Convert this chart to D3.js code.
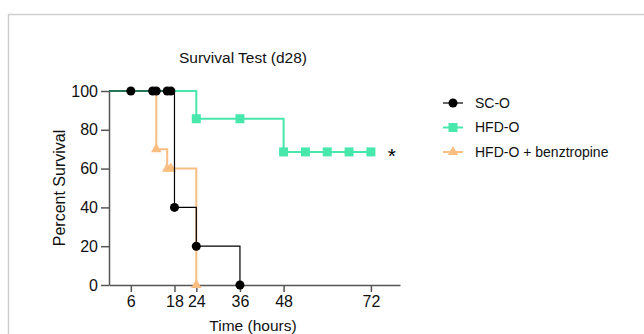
<!DOCTYPE html>
<html>
<head>
<meta charset="utf-8">
<script src="https://cdn.jsdelivr.net/npm/d3@7"></script>
<style>
  body { margin: 0; background: #fff; }
  svg { display: block; font-family: 'Liberation Sans', Arial, sans-serif; }
</style>
</head>
<body>
<svg id="chart" width="644" height="334"></svg>
<script>
// survival curves (time in hours, percent survival)
const scoSteps = [[0, 100], [18, 40], [24, 20], [36, 0]];
const scoMarks = [[6, 100], [12, 100], [13, 100], [16, 100], [17, 100], [18, 40], [24, 20], [36, 0]];

const hfdSteps = [[0, 100], [24, 85.7], [48, 68.6], [72, 68.6]];
const hfdMarks = [[24, 85.7], [36, 85.7], [48, 68.6], [54, 68.6], [60, 68.6], [66, 68.6], [72, 68.6]];

const benzSteps = [[0, 100], [13, 70], [16, 60], [24, 0]];
const benzMarks = [[13, 70], [16, 60], [17, 60], [24, 0]];

const xTicks = [6, 18, 24, 36, 48, 72];
const yTicks = [0, 20, 40, 60, 80, 100];

const series = [
  { name: 'HFD-O + benztropine', steps: benzSteps, marks: benzMarks, color: '#f9be82', shape: 'triangle' },
  { name: 'HFD-O', steps: hfdSteps, marks: hfdMarks, color: '#48e8ac', shape: 'square' },
  { name: 'SC-O', steps: scoSteps, marks: scoMarks, color: '#000000', shape: 'circle' },
];
const legendOrder = ['SC-O', 'HFD-O', 'HFD-O + benztropine'];

const svg = d3.select('#chart');
const axisColor = '#555';

// outer frame
svg.append('path')
  .attr('d', 'M8.5,334V14.5H644')
  .attr('fill', 'none')
  .attr('stroke', '#cfcfcf')
  .attr('stroke-width', 1.5);

const x = d3.scaleLinear().domain([0, 80]).range([109, 400]);
const y = d3.scaleLinear().domain([0, 100]).range([285, 91]);

// axes
const xAxis = svg.append('g')
  .attr('transform', `translate(0,${y(0)})`)
  .call(d3.axisBottom(x).tickValues(xTicks).tickSize(7).tickSizeOuter(0).tickPadding(4));
const yAxis = svg.append('g')
  .attr('transform', `translate(${x(0)},0)`)
  .call(d3.axisLeft(y).tickValues(yTicks).tickSize(8).tickSizeOuter(0).tickPadding(3));

[xAxis, yAxis].forEach((g) => {
  g.attr('font-size', null).attr('font-family', null);
  g.select('.domain').attr('stroke', axisColor).attr('stroke-width', 1.5);
  g.selectAll('.tick line').attr('stroke', axisColor).attr('stroke-width', 1.5);
  g.selectAll('.tick text')
    .attr('fill', '#111')
    .style('font-size', '16px')
    .style('font-family', "'Liberation Sans', Arial, sans-serif");
});

// titles
svg.append('text')
  .attr('x', 243).attr('y', 63)
  .attr('text-anchor', 'middle')
  .style('font-size', '15.5px')
  .attr('fill', '#111')
  .text('Survival Test (d28)');

svg.append('text')
  .attr('x', 253).attr('y', 331)
  .attr('text-anchor', 'middle')
  .style('font-size', '15.5px')
  .attr('fill', '#111')
  .text('Time (hours)');

svg.append('text')
  .attr('transform', `translate(65,${(y(0) + y(100)) / 2}) rotate(-90)`)
  .attr('text-anchor', 'middle')
  .style('font-size', '16px')
  .attr('fill', '#111')
  .text('Percent Survival');

const line = d3.line()
  .x((d) => x(d[0]))
  .y((d) => y(d[1]))
  .curve(d3.curveStepAfter);

function drawMark(g, shape, color) {
  if (shape === 'circle') {
    g.append('circle').attr('r', 4.5).attr('fill', color);
  } else if (shape === 'square') {
    g.append('rect').attr('x', -4.5).attr('y', -4.5).attr('width', 9).attr('height', 9).attr('fill', color);
  } else {
    g.append('path').attr('d', d3.symbol(d3.symbolTriangle, 48)()).attr('fill', color);
  }
}

series.forEach((s) => {
  svg.append('path')
    .datum(s.steps)
    .attr('d', line)
    .attr('fill', 'none')
    .attr('stroke', s.color)
    .attr('stroke-width', s.shape === 'circle' ? 1.2 : 2);

  svg.append('g')
    .selectAll('g')
    .data(s.marks)
    .join('g')
    .attr('transform', (d) => `translate(${x(d[0])},${y(d[1])})`)
    .each(function () { drawMark(d3.select(this), s.shape, s.color); });
});

// significance marker
svg.append('text')
  .attr('x', x(72) + 21).attr('y', y(68.6) + 11)
  .attr('text-anchor', 'middle')
  .style('font-size', '21px')
  .attr('fill', '#000')
  .text('*');

// legend
const legend = svg.append('g').attr('transform', 'translate(443,103)');
legendOrder.forEach((name, i) => {
  const s = series.find((d) => d.name === name);
  const row = legend.append('g').attr('transform', `translate(0,${i * 24.5})`);
  row.append('line')
    .attr('x1', 0).attr('x2', 20)
    .attr('stroke', s.color)
    .attr('stroke-width', s.shape === 'circle' ? 1.2 : 2);
  drawMark(row.append('g').attr('transform', 'translate(10,0)'), s.shape, s.color);
  row.append('text')
    .attr('x', 32).attr('y', 0)
    .attr('dy', '0.35em')
    .style('font-size', '14px')
    .attr('fill', '#111')
    .text(name);
});
</script>
</body>
</html>
